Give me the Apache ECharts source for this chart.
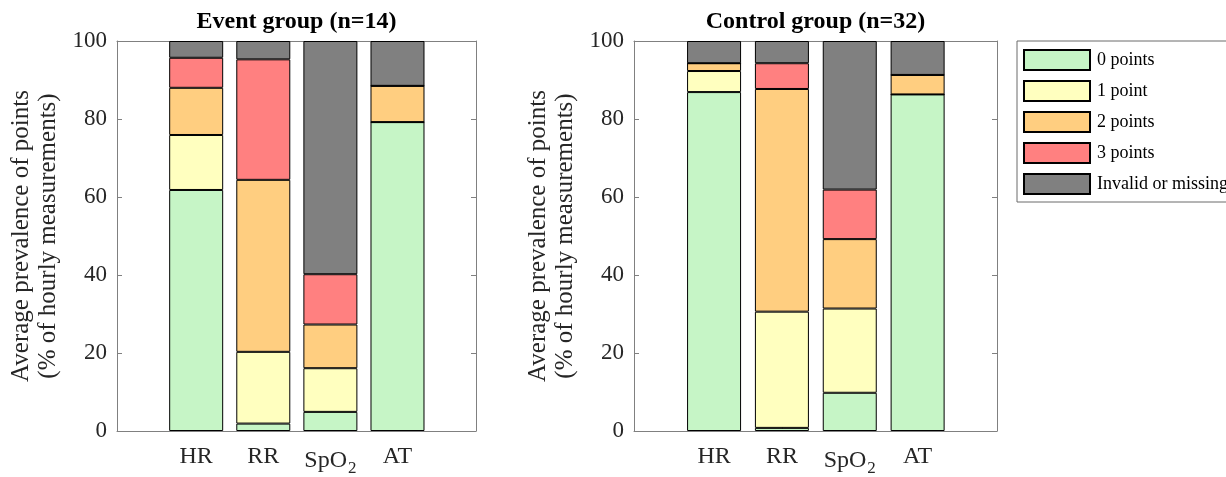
<!DOCTYPE html>
<html><head><meta charset="utf-8">
<script src="https://cdn.jsdelivr.net/npm/echarts@6/dist/echarts.min.js"></script>
<style>html,body{margin:0;padding:0;background:#fff}#c{width:1226px;height:477px}</style>
</head><body><div id="c"></div>
<script>
// ---- data ----
const categories = ['HR', 'RR', 'SpO2', 'AT'];
const levels = ['0 points', '1 point', '2 points', '3 points', 'Invalid or missing'];
const groupTitles = ['Event group (n=14)', 'Control group (n=32)'];
const yTicks = [0, 20, 40, 60, 80, 100];

const event0   = [61.8, 1.9, 4.9, 79.2];
const event1   = [14.1, 18.4, 11.2, 0];
const event2   = [12.1, 44.1, 11.2, 9.3];
const event3   = [7.7, 30.9, 12.9, 0];
const eventInv = [4.3, 4.7, 59.8, 11.5];

const control0   = [86.9, 0.8, 9.8, 86.3];
const control1   = [5.4, 29.8, 21.6, 0];
const control2   = [2.0, 57.1, 17.8, 5.0];
const control3   = [0, 6.6, 12.7, 0];
const controlInv = [5.7, 5.7, 38.1, 8.7];

const groupsData = [
  [event0, event1, event2, event3, eventInv],
  [control0, control1, control2, control3, controlInv]
];

// ---- style ----
const colors = ['#c6f5c6', '#ffffbf', '#ffce80', '#ff8080', '#808080'];
const FONT = "'Liberation Serif','Times New Roman',serif";
const AX = '#808080';
const TXT = '#262626';
const grids = [
  { left: 117, top: 41, width: 359, height: 391 },
  { left: 634, top: 41, width: 363, height: 392 }
];
const xMin = -0.18, xMax = 5.17;
const tickPos = categories.map((c, i) => i + 1);

function labelFmt(v) {
  const name = categories[Math.round(v) - 1];
  if (name === 'SpO2') return '{n|SpO}{s|2}';
  return '{n|' + name + '}';
}

const xAxis = [], yAxis = [], series = [], title = [];
grids.forEach((g, gi) => {
  title.push({
    text: groupTitles[gi], left: g.left + g.width / 2, top: 10, padding: 0,
    textAlign: 'center',
    textStyle: { fontFamily: FONT, fontWeight: 'bold', fontSize: 24, color: '#000' }
  });
  xAxis.push({
    type: 'value', gridIndex: gi, position: 'bottom', min: xMin, max: xMax,
    splitLine: { show: false },
    axisLine: { show: true, onZero: false, lineStyle: { color: AX, width: 1 } },
    axisTick: { show: true, inside: true, length: 5, customValues: tickPos, lineStyle: { color: AX } },
    axisLabel: {
      show: true, customValues: tickPos, formatter: labelFmt, margin: 14, color: TXT,
      rich: {
        n: { fontFamily: FONT, fontSize: 24, color: TXT },
        s: { fontFamily: FONT, fontSize: 17, color: TXT, padding: [15, 0, 0, 1] }
      }
    }
  });
  xAxis.push({
    type: 'value', gridIndex: gi, position: 'top', min: xMin, max: xMax,
    splitLine: { show: false },
    axisLine: { show: true, onZero: false, lineStyle: { color: AX, width: 1 } },
    axisTick: { show: true, inside: true, length: 5, customValues: tickPos, lineStyle: { color: AX } },
    axisLabel: { show: false }
  });
  yAxis.push({
    type: 'value', gridIndex: gi, position: 'left', min: 0, max: 100, interval: 20,
    splitLine: { show: false },
    axisLine: { show: true, onZero: false, lineStyle: { color: AX, width: 1 } },
    axisTick: { show: true, inside: true, length: 5, lineStyle: { color: AX } },
    axisLabel: { show: true, fontFamily: FONT, fontSize: 23, color: TXT, margin: 10 },
    name: 'Average prevalence of points\n(% of hourly measurements)',
    nameLocation: 'middle', nameRotate: 90, nameGap: 55,
    nameTextStyle: { fontFamily: FONT, fontSize: 25, lineHeight: 27, color: TXT }
  });
  yAxis.push({
    type: 'value', gridIndex: gi, position: 'right', min: 0, max: 100, interval: 20,
    splitLine: { show: false },
    axisLine: { show: true, onZero: false, lineStyle: { color: AX, width: 1 } },
    axisTick: { show: true, inside: true, length: 5, lineStyle: { color: AX } },
    axisLabel: { show: false }
  });
  groupsData[gi].forEach((vals, k) => {
    series.push({
      type: 'bar', name: levels[k], stack: 'g' + gi,
      xAxisIndex: gi * 2, yAxisIndex: gi * 2,
      barWidth: 54,
      encode: { x: 1, y: 0 },
      itemStyle: { color: colors[k], borderColor: '#000', borderWidth: 1 },
      emphasis: { disabled: true },
      data: vals.map((v, i) => [v, tickPos[i]])
    });
  });
});

const chart = echarts.init(document.getElementById('c'), null, { renderer: 'canvas' });
chart.setOption({
  animation: false,
  backgroundColor: '#fff',
  title: title,
  grid: grids,
  xAxis: xAxis,
  yAxis: yAxis,
  legend: {
    orient: 'vertical', left: 1017, top: 41, padding: [8, 8, 7, 6],
    itemWidth: 66, itemHeight: 20, itemGap: 9,
    borderColor: '#6a6a6a', borderWidth: 1, selectedMode: false,
    icon: 'rect', data: levels,
    textStyle: { fontFamily: FONT, fontSize: 18, color: '#000', padding: [0, 0, 0, 2] }
  },
  series: series
});
</script>
</body></html>
